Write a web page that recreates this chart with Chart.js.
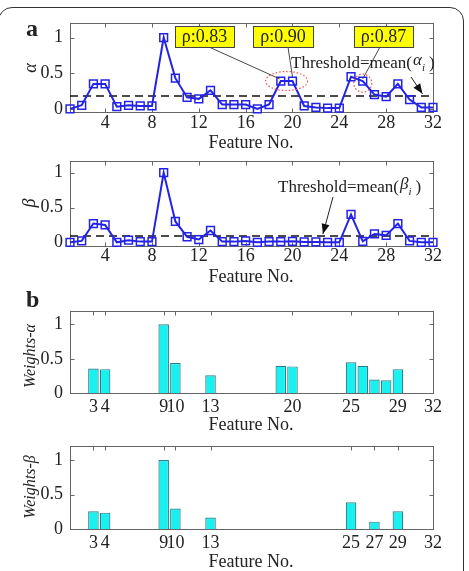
<!DOCTYPE html>
<html>
<head>
<meta charset="utf-8">
<script src="https://cdn.jsdelivr.net/npm/chart.js@4.4.0/dist/chart.umd.min.js"></script>
<style>
  body { margin: 0; background: #fff; }
  #wrap { position: relative; width: 469px; height: 571px; overflow: hidden; }
  #wrap canvas { position: absolute; left: 0; top: 0; }
  #frame { position: absolute; left: -2px; top: 7px; width: 466px; height: 620px;
           border: 1.5px solid #333; border-radius: 14px; box-sizing: border-box; }
</style>
</head>
<body>
<div id="wrap">
  <div id="frame"></div>
  <canvas id="alphaChart" width="469" height="571"></canvas>
  <canvas id="betaChart" width="469" height="571"></canvas>
  <canvas id="wAlphaChart" width="469" height="571"></canvas>
  <canvas id="wBetaChart" width="469" height="571"></canvas>
</div>
<script>
// data
const features = [1,2,3,4,5,6,7,8,9,10,11,12,13,14,15,16,17,18,19,20,21,22,23,24,25,26,27,28,29,30,31,32];
const alpha = [0.00,0.05,0.35,0.35,0.03,0.05,0.04,0.04,1.00,0.43,0.16,0.14,0.26,0.06,0.06,0.06,
               0.00,0.06,0.39,0.39,0.04,0.02,0.01,0.01,0.45,0.39,0.20,0.17,0.35,0.13,0.02,0.02];
const beta = [0.00,0.02,0.27,0.25,0.00,0.03,0.01,0.01,1.00,0.30,0.08,0.04,0.17,0.01,0.01,0.02,
              0.00,0.01,0.01,0.015,0.005,0.005,0.00,0.00,0.40,0.015,0.12,0.10,0.27,0.02,0.00,0.00];
const alphaThreshold = 0.18;
const betaThreshold = 0.09;
const lineTicks = [4,8,12,16,20,24,28,32];
const yTicks = [0,0.5,1];

const wAlphaFeatures = [3,4,9,10,13,19,20,25,26,27,28,29];
const wAlpha = [0.36,0.35,1.00,0.44,0.26,0.40,0.39,0.45,0.40,0.20,0.19,0.35];
const wAlphaTicks = [3,4,9,10,13,20,25,29,32];
const wBetaFeatures = [3,4,9,10,13,25,27,29];
const wBeta = [0.26,0.24,1.00,0.30,0.17,0.39,0.11,0.26];
const wBetaTicks = [3,4,9,10,13,25,27,29,32];
const rhoLabels = ['ρ:0.83','ρ:0.90','ρ:0.87'];

const serif = "'Liberation Serif','Times New Roman',serif";
const ink = '#222';
const plotLeft = 70;

function pts(xs, ys) { return xs.map((x, i) => ({x: x, y: ys[i]})); }

function scalesFor(bottom, yMin, yMax, xTicks, xPad) {
  return {
    x: {
      type: 'linear', min: 1, max: 32, offset: false,
      afterBuildTicks: s => { s.ticks = xTicks.map(v => ({value: v})); },
      afterFit: s => { s.height = 571 - bottom; s.paddingLeft = 0; s.paddingRight = 0; },
      grid: {display: false, drawTicks: false}, border: {display: false},
      ticks: {padding: xPad, color: ink, autoSkip: false, maxRotation: 0,
              font: {family: serif, size: 18}, callback: v => String(v)}
    },
    y: {
      type: 'linear', min: yMin, max: yMax,
      afterBuildTicks: s => { s.ticks = yTicks.map(v => ({value: v})); },
      afterFit: s => { s.width = plotLeft; s.paddingTop = 0; s.paddingBottom = 0; },
      grid: {display: false, drawTicks: false}, border: {display: false},
      ticks: {padding: 7, color: ink, font: {family: serif, size: 18}, callback: v => String(v)}
    }
  };
}

// axis box + inward ticks, matlab style
const boxPlugin = {
  id: 'box',
  beforeDatasetsDraw(chart) {
    const {ctx, chartArea: a, scales: {x, y}} = chart;
    ctx.save();
    ctx.strokeStyle = '#666';
    ctx.lineWidth = 1;
    const l = Math.round(a.left) + 0.5, r = Math.round(a.right) + 0.5;
    const t = Math.round(a.top) + 0.5, b = Math.round(a.bottom) + 0.5;
    ctx.strokeRect(l, t, r - l, b - t);
    ctx.beginPath();
    x.ticks.forEach(tk => {
      const px = Math.round(x.getPixelForValue(tk.value)) + 0.5;
      ctx.moveTo(px, b); ctx.lineTo(px, b - 4);
      ctx.moveTo(px, t); ctx.lineTo(px, t + 4);
    });
    y.ticks.forEach(tk => {
      const py = Math.round(y.getPixelForValue(tk.value)) + 0.5;
      ctx.moveTo(l, py); ctx.lineTo(l + 4, py);
      ctx.moveTo(r, py); ctx.lineTo(r - 4, py);
    });
    ctx.stroke();
    ctx.restore();
  }
};

function text(ctx, s, x, y, font, align) {
  ctx.font = font;
  ctx.fillStyle = ink;
  ctx.textAlign = align || 'left';
  ctx.textBaseline = 'middle';
  ctx.fillText(s, x, y);
}

function vtext(ctx, s, x, y, font) {
  ctx.save();
  ctx.translate(x, y);
  ctx.rotate(-Math.PI / 2);
  text(ctx, s, 0, 0, font, 'center');
  ctx.restore();
}

function arrow(ctx, x1, y1, x2, y2) {
  const ang = Math.atan2(y2 - y1, x2 - x1);
  ctx.save();
  ctx.strokeStyle = '#222';
  ctx.fillStyle = '#111';
  ctx.lineWidth = 1;
  ctx.beginPath(); ctx.moveTo(x1, y1); ctx.lineTo(x2, y2); ctx.stroke();
  ctx.beginPath();
  ctx.moveTo(x2, y2);
  ctx.lineTo(x2 - 10 * Math.cos(ang) + 4 * Math.sin(ang), y2 - 10 * Math.sin(ang) - 4 * Math.cos(ang));
  ctx.lineTo(x2 - 10 * Math.cos(ang) - 4 * Math.sin(ang), y2 - 10 * Math.sin(ang) + 4 * Math.cos(ang));
  ctx.closePath(); ctx.fill();
  ctx.restore();
}

function thresholdText(ctx, x, y, greek) {
  ctx.textAlign = 'left';
  ctx.textBaseline = 'alphabetic';
  ctx.fillStyle = ink;
  ctx.font = `17px ${serif}`;
  ctx.fillText('Threshold=mean(', x, y);
  let w = ctx.measureText('Threshold=mean(').width;
  ctx.font = `italic 17px ${serif}`;
  ctx.fillText(greek, x + w + 1, y - 3);
  w += ctx.measureText(greek).width + 1;
  ctx.font = `italic 11px ${serif}`;
  ctx.fillText('i', x + w, y + 3);
  w += ctx.measureText('i').width + 4;
  ctx.font = `17px ${serif}`;
  ctx.fillText(')', x + w, y);
}

function featureTitle(ctx, y) { text(ctx, 'Feature No.', 251, y, `18px ${serif}`, 'center'); }

function lineDatasets(values, thr) {
  return [
    {
      data: pts(features, values), borderColor: '#2323e8', borderWidth: 2, tension: 0,
      pointStyle: 'rect', pointRadius: 5.5, pointBorderWidth: 1.5,
      pointBorderColor: '#2323e8', pointBackgroundColor: 'rgba(255,255,255,0)', clip: false
    },
    {
      data: [{x: 1, y: thr}, {x: 32, y: thr}], borderColor: '#111', borderWidth: 1.6,
      borderDash: [8, 5], pointRadius: 0
    }
  ];
}

function baseOptions(top, bottom, yMin, yMax, xTicks, xPad) {
  return {
    responsive: false, animation: false, devicePixelRatio: 1,
    layout: {padding: {left: 0, right: 36, top: top, bottom: 0}},
    plugins: {legend: {display: false}, tooltip: {enabled: false}},
    scales: scalesFor(bottom, yMin, yMax, xTicks, xPad)
  };
}

// panel a, alpha
new Chart(document.getElementById('alphaChart'), {
  type: 'line',
  data: {datasets: lineDatasets(alpha, alphaThreshold)},
  options: baseOptions(23.3, 112.4, -0.05, 1.2, lineTicks, 0),
  plugins: [boxPlugin, {
    id: 'decoA',
    afterDraw(chart) {
      const {ctx, scales: {x, y}} = chart;
      ctx.save();
      ctx.fillStyle = ink; ctx.textAlign = 'left'; ctx.textBaseline = 'alphabetic';
      ctx.font = `bold 24px ${serif}`;
      ctx.fillText('a', 26, 36);
      vtext(ctx, 'α', 31, 68, `italic 18px ${serif}`);
      featureTitle(ctx, 143);

      // dotted circles round the correlated pairs
      ctx.strokeStyle = '#f05050'; ctx.lineWidth = 1.2; ctx.setLineDash([1.5, 2]);
      ctx.beginPath();
      ctx.ellipse(x.getPixelForValue(19.5), y.getPixelForValue(0.39), 21, 9.5, 0, 0, Math.PI * 2);
      ctx.stroke();
      ctx.beginPath();
      ctx.ellipse(x.getPixelForValue(26), y.getPixelForValue(0.36), 9, 9, 0, 0, Math.PI * 2);
      ctx.stroke();
      ctx.setLineDash([]);

      // leader lines
      ctx.strokeStyle = '#333'; ctx.lineWidth = 0.9;
      const leads = [[209, 47, 18.9, 0.42], [288, 47, 20.0, 0.45], [380, 47, 26.0, 0.42]];
      leads.forEach(l => {
        ctx.beginPath(); ctx.moveTo(l[0], l[1]);
        ctx.lineTo(x.getPixelForValue(l[2]), y.getPixelForValue(l[3])); ctx.stroke();
      });

      // yellow rho boxes
      const boxes = [[175, 26, 59], [253, 26, 60], [354, 26, 59]];
      boxes.forEach((b, i) => {
        ctx.fillStyle = '#ffff00'; ctx.fillRect(b[0], b[1], b[2], 21);
        ctx.strokeStyle = '#444'; ctx.lineWidth = 1;
        ctx.strokeRect(b[0] + 0.5, b[1] + 0.5, b[2], 21);
        text(ctx, rhoLabels[i], b[0] + b[2] / 2, b[1] + 11.5, `18px ${serif}`, 'center');
      });

      thresholdText(ctx, 291, 68, 'α');
      arrow(ctx, 411, 77, x.getPixelForValue(31.1), y.getPixelForValue(alphaThreshold + 0.03));
      ctx.restore();
    }
  }]
});

// panel a, beta
new Chart(document.getElementById('betaChart'), {
  type: 'line',
  data: {datasets: lineDatasets(beta, betaThreshold)},
  options: baseOptions(160.9, 245.8, -0.05, 1.17, lineTicks, 0),
  plugins: [boxPlugin, {
    id: 'decoB',
    afterDraw(chart) {
      const {ctx, scales: {x, y}} = chart;
      ctx.save();
      vtext(ctx, 'β', 30, 203, `italic 18px ${serif}`);
      featureTitle(ctx, 277);
      thresholdText(ctx, 278, 192, 'β');
      arrow(ctx, 333, 197, x.getPixelForValue(22.6), y.getPixelForValue(betaThreshold + 0.03));
      ctx.restore();
    }
  }]
});

function barDataset(xs, ys) {
  return [{
    data: pts(xs, ys), backgroundColor: '#19f0f0', borderColor: '#2b7f88', borderWidth: 1.2,
    barPercentage: 0.9, categoryPercentage: 1
  }];
}

// panel b, weights alpha
new Chart(document.getElementById('wAlphaChart'), {
  type: 'bar',
  data: {datasets: barDataset(wAlphaFeatures, wAlpha)},
  options: baseOptions(310.5, 393.3, 0, 1.2, wAlphaTicks, 3),
  plugins: [boxPlugin, {
    id: 'decoWA',
    afterDraw(chart) {
      const {ctx} = chart;
      ctx.save();
      ctx.fillStyle = ink; ctx.textAlign = 'left'; ctx.textBaseline = 'alphabetic';
      ctx.font = `bold 24px ${serif}`;
      ctx.fillText('b', 26, 307);
      vtext(ctx, 'Weights-α', 31, 356, `italic 16px ${serif}`);
      featureTitle(ctx, 425);
      ctx.restore();
    }
  }]
});

// panel b, weights beta
new Chart(document.getElementById('wBetaChart'), {
  type: 'bar',
  data: {datasets: barDataset(wBetaFeatures, wBeta)},
  options: baseOptions(446.1, 529.3, 0, 1.2, wBetaTicks, 3),
  plugins: [boxPlugin, {
    id: 'decoWB',
    afterDraw(chart) {
      const {ctx} = chart;
      ctx.save();
      vtext(ctx, 'Weights-β', 31, 487, `italic 16px ${serif}`);
      featureTitle(ctx, 562);
      ctx.restore();
    }
  }]
});
</script>
</body>
</html>
